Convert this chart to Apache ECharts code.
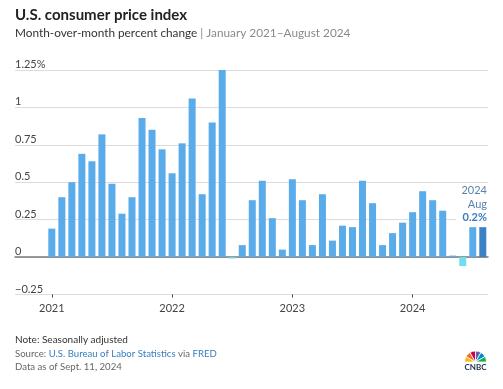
<!DOCTYPE html>
<html>
<head>
<meta charset="utf-8">
<script src="https://cdn.jsdelivr.net/npm/echarts@6/dist/echarts.min.js"></script>
<style>
html,body{margin:0;padding:0;background:#fff;}
#c{width:503px;height:389px;}
</style>
</head>
<body>
<div id="c"></div>
<script>
// Months Jan 2021 – Aug 2024
const months = [
  "2021-01","2021-02","2021-03","2021-04","2021-05","2021-06","2021-07","2021-08","2021-09","2021-10","2021-11","2021-12",
  "2022-01","2022-02","2022-03","2022-04","2022-05","2022-06","2022-07","2022-08","2022-09","2022-10","2022-11","2022-12",
  "2023-01","2023-02","2023-03","2023-04","2023-05","2023-06","2023-07","2023-08","2023-09","2023-10","2023-11","2023-12",
  "2024-01","2024-02","2024-03","2024-04","2024-05","2024-06","2024-07","2024-08"
];
// Month-over-month percent change (CPI, seasonally adjusted)
const cpiChange = [
  0.19,0.40,0.50,0.69,0.64,0.82,0.49,0.29,0.40,0.93,0.85,0.72,
  0.56,0.76,1.06,0.42,0.90,1.25,-0.01,0.08,0.38,0.51,0.26,0.05,
  0.52,0.38,0.08,0.42,0.11,0.21,0.20,0.51,0.36,0.08,0.16,0.23,
  0.30,0.44,0.38,0.31,0.01,-0.06,0.20,0.20
];
const yTicks = [-0.25,0,0.25,0.5,0.75,1,1.25];
const yTickLabels = ["\u22120.25","0","0.25","0.5","0.75","1","1.25%"];

const chart = echarts.init(document.getElementById('c'));
const FONT = 'Lato, "Open Sans", sans-serif';
const lastIdx = cpiChange.length - 1;

chart.setOption({
  animation: false,
  backgroundColor: '#fff',
  textStyle: { fontFamily: FONT },
  grid: [
    { left: 15, right: 15, top: 70, bottom: 94.5 },
    { left: 46.8, right: 15.2, top: 70, bottom: 94.5 }
  ],
  xAxis: [
    { gridIndex: 0, type: 'value', min: 0, max: 1,
      axisLine: { show: true, onZero: true, lineStyle: { color: '#7a7a7a', width: 1.5 } },
      axisTick: { show: false }, axisLabel: { show: false }, splitLine: { show: false } },
    { gridIndex: 1, type: 'category', data: months, boundaryGap: true,
      axisLine: { show: false, onZero: false },
      axisTick: { show: true, alignWithLabel: true, length: 3,
        interval: (i) => i % 12 === 0, lineStyle: { color: '#444', width: 1 } },
      axisLabel: { interval: (i) => i % 12 === 0, formatter: (v) => v.slice(0, 4),
        color: '#444', fontSize: 11, margin: 8, fontFamily: FONT },
      splitLine: { show: false } }
  ],
  yAxis: [
    { gridIndex: 0, type: 'value', min: -0.25, max: 1.25, interval: 0.25,
      axisLine: { show: false }, axisTick: { show: false },
      axisLabel: { inside: true, margin: 0, align: 'left', verticalAlign: 'bottom',
        color: '#444', fontSize: 11, fontFamily: FONT,
        formatter: (v) => { const i = yTicks.findIndex(t => Math.abs(t - v) < 1e-9); return i >= 0 ? yTickLabels[i] : ''; } },
      splitLine: { show: true, lineStyle: { color: '#dcdcdc', width: 1 } } },
    { gridIndex: 1, type: 'value', min: -0.25, max: 1.25, interval: 0.25, show: false,
      splitLine: { show: false } }
  ],
  series: [
    { type: 'bar', xAxisIndex: 1, yAxisIndex: 1, data: cpiChange, barWidth: 7,
      itemStyle: { color: (p) => p.dataIndex === lastIdx ? '#3b82c4' : (p.value < 0 ? '#6fdff0' : '#5aabea') },
      z: 3 }
  ],
  graphic: [
    { type: 'text', left: 15, top: 8, style: { text: 'U.S. consumer price index', font: 'bold 15px ' + FONT, fill: '#222' } },
    { type: 'text', left: 15, top: 27, style: {
        text: '{d|Month-over-month percent change }{g|| January 2021\u2013August 2024}',
        rich: { d: { fontSize: 11.8, fill: '#333', fontFamily: FONT }, g: { fontSize: 11.8, fill: '#8a8a8a', fontFamily: FONT } } } },
    // annotation for latest value
    { type: 'rect', shape: { x: 456, y: 183, width: 32, height: 42 }, style: { fill: '#fff' }, z: 1 },
    { type: 'text', x: 487, y: 190, z: 10, style: { text: '2024', align: 'right', verticalAlign: 'middle', font: '11px ' + FONT, fill: '#5b82ac' } },
    { type: 'text', x: 487, y: 204, z: 10, style: { text: 'Aug', align: 'right', verticalAlign: 'middle', font: '11px ' + FONT, fill: '#5b82ac' } },
    { type: 'text', x: 487, y: 217, z: 10, style: { text: '0.2%', align: 'right', verticalAlign: 'middle', font: 'bold 11px ' + FONT, fill: '#3a7cc0' } },
    // footer
    { type: 'text', left: 15, top: 335, style: { text: 'Note: Seasonally adjusted', font: '10px ' + FONT, fill: '#333' } },
    { type: 'text', left: 15, top: 349, style: {
        text: '{g|Source: }{b|U.S. Bureau of Labor Statistics}{g| via }{b|FRED}',
        rich: { g: { fontSize: 9.6, fill: '#666', fontFamily: FONT }, b: { fontSize: 9.6, fill: '#3a7dc0', fontFamily: FONT } } } },
    { type: 'text', left: 15, top: 362, style: { text: 'Data as of Sept. 11, 2024', font: '9.6px ' + FONT, fill: '#666' } },
    // CNBC logo
    { type: 'group', children: [
      { type: 'sector', shape: { cx: 475.5, cy: 362, r: 11, r0: 1.5, startAngle: Math.PI, endAngle: Math.PI * 7 / 6 }, style: { fill: '#fcb711', stroke: '#fff', lineWidth: 0.8 } },
      { type: 'sector', shape: { cx: 475.5, cy: 362, r: 11, r0: 1.5, startAngle: Math.PI * 7 / 6, endAngle: Math.PI * 8 / 6 }, style: { fill: '#f37021', stroke: '#fff', lineWidth: 0.8 } },
      { type: 'sector', shape: { cx: 475.5, cy: 362, r: 11, r0: 1.5, startAngle: Math.PI * 8 / 6, endAngle: Math.PI * 9 / 6 }, style: { fill: '#cc004c', stroke: '#fff', lineWidth: 0.8 } },
      { type: 'sector', shape: { cx: 475.5, cy: 362, r: 11, r0: 1.5, startAngle: Math.PI * 9 / 6, endAngle: Math.PI * 10 / 6 }, style: { fill: '#6460aa', stroke: '#fff', lineWidth: 0.8 } },
      { type: 'sector', shape: { cx: 475.5, cy: 362, r: 11, r0: 1.5, startAngle: Math.PI * 10 / 6, endAngle: Math.PI * 11 / 6 }, style: { fill: '#0089d0', stroke: '#fff', lineWidth: 0.8 } },
      { type: 'sector', shape: { cx: 475.5, cy: 362, r: 11, r0: 1.5, startAngle: Math.PI * 11 / 6, endAngle: Math.PI * 2 }, style: { fill: '#0db14b', stroke: '#fff', lineWidth: 0.8 } },
      { type: 'rect', shape: { x: 462, y: 362, width: 28, height: 10 }, style: { fill: '#fff' } },
      { type: 'text', x: 475.5, y: 367, style: { text: 'CNBC', align: 'center', verticalAlign: 'middle', font: 'bold 8px ' + FONT, fill: '#1b2b4b' } }
    ] }
  ]
});
</script>
</body>
</html>
